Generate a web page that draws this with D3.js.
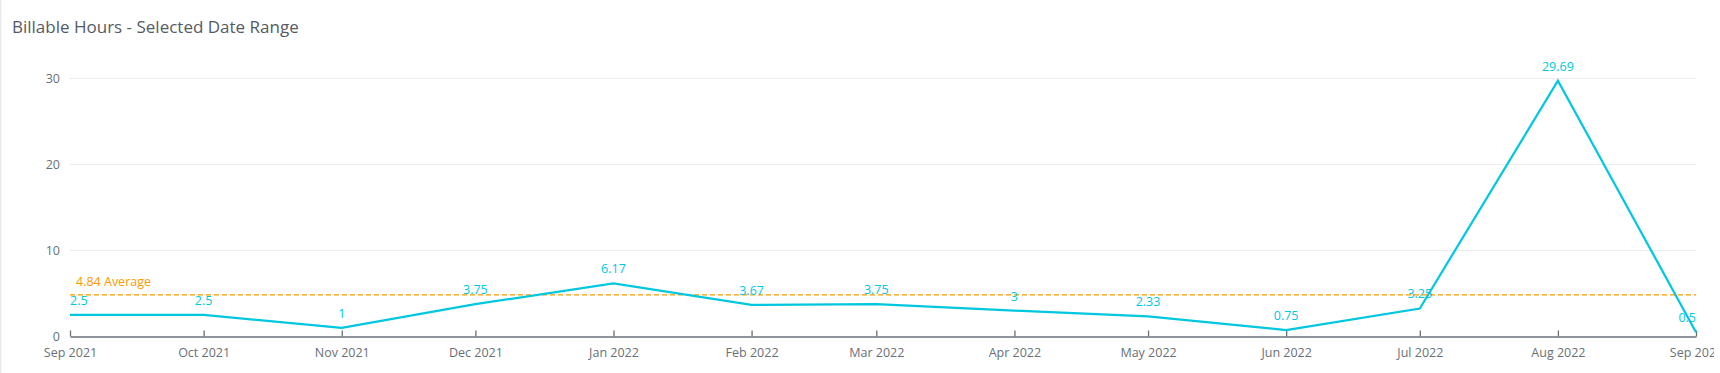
<!DOCTYPE html>
<html>
<head>
<meta charset="utf-8">
<script src="https://cdn.jsdelivr.net/npm/d3@7"></script>
<style>
  html, body { margin: 0; padding: 0; background: #fff; }
  svg { display: block; font-family: "Open Sans", "Noto Sans", sans-serif; }
</style>
</head>
<body>
<svg id="chart" width="1720" height="373"></svg>
<script>
const months = ["2021-09-01","2021-10-01","2021-11-01","2021-12-01","2022-01-01","2022-02-01","2022-03-01","2022-04-01","2022-05-01","2022-06-01","2022-07-01","2022-08-01","2022-09-01"];
const hours = [2.5, 2.5, 1, 3.75, 6.17, 3.67, 3.75, 3, 2.33, 0.75, 3.25, 29.69, 0.5];
const valueLabels = ["2.5","2.5","1","3.75","6.17","3.67","3.75","3","2.33","0.75","3.25","29.69","0.5"];
const yTicks = [0, 10, 20, 30];
const averageValue = 4.84;
const averageLabel = "4.84 Average";
const title = "Billable Hours - Selected Date Range";

const W = 1720, H = 373;
const margin = {left: 70, right: 24, top: 78, bottom: 36.5};
const svg = d3.select("#chart");

const parse = d3.utcParse("%Y-%m-%d");
const dates = months.map(parse);

const x = d3.scaleUtc().domain([dates[0], dates[dates.length-1]]).range([margin.left, W - margin.right]);
const y = d3.scaleLinear().domain([0, 30]).range([H - margin.bottom, margin.top]);

// clip (the reference crops the chart at its right edge)
svg.append("defs").append("clipPath").attr("id","clip")
  .append("rect").attr("x",0).attr("y",0).attr("width",1714).attr("height",H);
const root = svg.append("g").attr("clip-path","url(#clip)");

// left border
root.append("rect").attr("x",0).attr("y",0).attr("width",1.5).attr("height",H).attr("fill","#e9ebed");

// title
root.append("text").attr("x",12).attr("y",33).attr("font-size",17).attr("fill","#545b64").text(title);

// gridlines
root.append("g").selectAll("line").data(yTicks.filter(d => d > 0)).join("line")
  .attr("x1", margin.left).attr("x2", W - margin.right)
  .attr("y1", d => Math.round(y(d)) + 0.5).attr("y2", d => Math.round(y(d)) + 0.5)
  .attr("stroke","#eaeded").attr("stroke-width",1);

// y axis labels
const yAxis = d3.axisLeft(y).tickValues(yTicks).tickSize(0).tickPadding(10);
const gy = root.append("g").attr("transform",`translate(${margin.left},0)`).call(yAxis);
gy.select(".domain").remove();
gy.selectAll("text").attr("font-size",12.5).attr("fill","#687078").attr("font-family","Open Sans, sans-serif");

// x axis
const xAxis = d3.axisBottom(x).tickValues(dates).tickFormat(d3.utcFormat("%b %Y")).tickSizeInner(-6).tickSizeOuter(0).tickPadding(12);
const gx = root.append("g").attr("transform",`translate(0,${y(0)})`).call(xAxis);
gx.select(".domain").attr("stroke","#687078").attr("stroke-width",1.3);
gx.selectAll(".tick line").attr("stroke","#687078").attr("stroke-width",1.3);
gx.selectAll("text").attr("font-size",12.5).attr("fill","#687078").attr("font-family","Open Sans, sans-serif");

// average line
root.append("line").attr("x1", margin.left).attr("x2", W - margin.right)
  .attr("y1", y(averageValue)).attr("y2", y(averageValue))
  .attr("stroke","#ff9900").attr("stroke-width",1.3).attr("stroke-dasharray","5,3");
root.append("text").attr("x", margin.left + 6).attr("y", y(averageValue) - 9)
  .attr("font-size",12.5).attr("fill","#ff9900").text(averageLabel);

// line
const pts = dates.map((d,i) => ({d, v: hours[i], label: valueLabels[i]}));
root.append("path").datum(pts)
  .attr("fill","none").attr("stroke","#00c7e0").attr("stroke-width",2.2).attr("stroke-linejoin","miter")
  .attr("d", d3.line().x(p => x(p.d)).y(p => y(p.v)));

// value labels
const lbl = root.append("g").selectAll("text").data(pts).join("text")
  .attr("font-size",12.5).attr("fill","#00c7e0")
  .attr("y", p => y(p.v) - 10)
  .text(p => p.label);
lbl.each(function(p){
  const w = this.getComputedTextLength();
  let cx = x(p.d) - w/2;
  cx = Math.max(margin.left, Math.min(W - margin.right - w, cx));
  d3.select(this).attr("x", cx);
});
</script>
</body>
</html>
